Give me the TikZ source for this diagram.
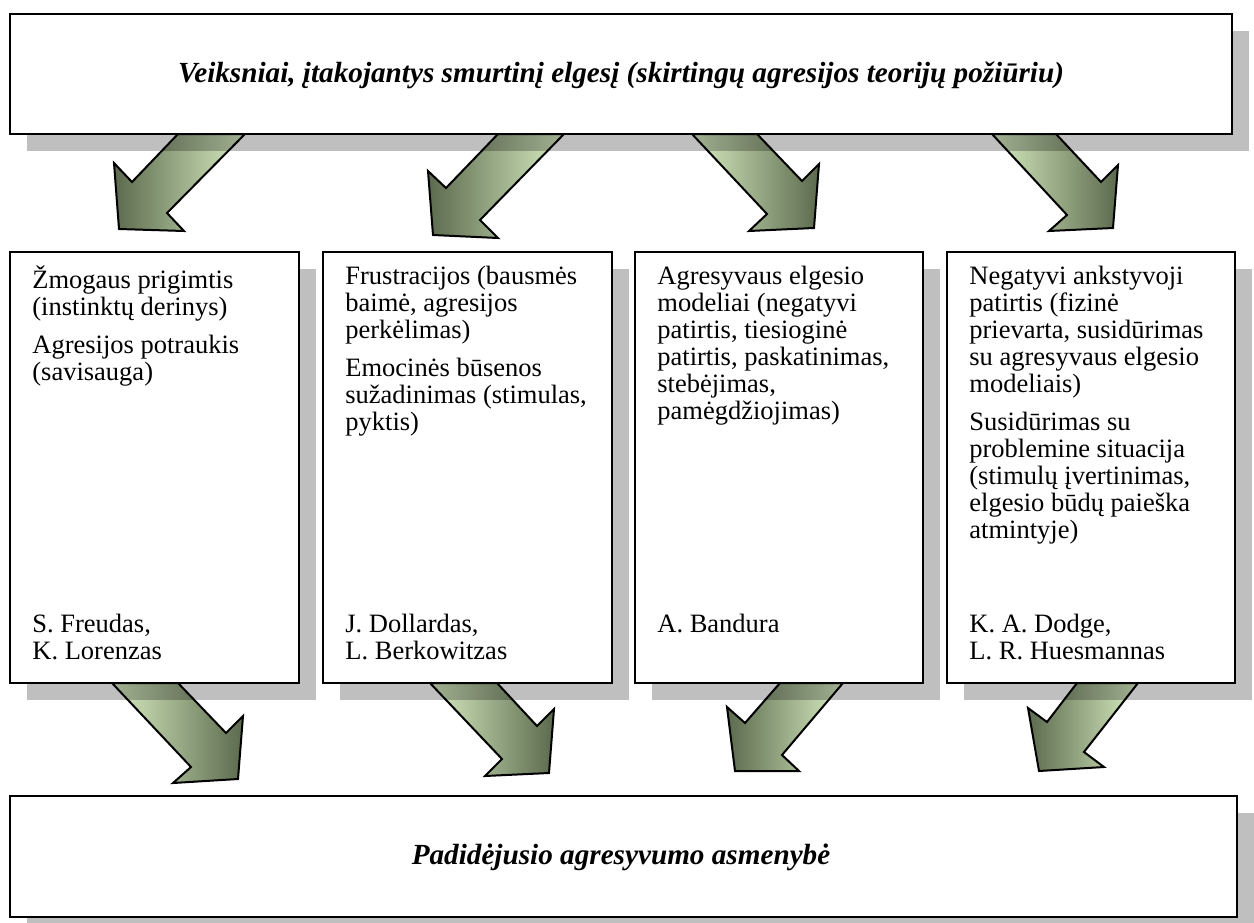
\documentclass[tikz,border=0pt]{standalone}
\usepackage{fontspec}
\setmainfont{Liberation Serif}
\usetikzlibrary{fit,shadows}
\definecolor{arrowlight}{HTML}{D8EDC2}
\definecolor{arrowdark}{HTML}{5B6A4D}
\tikzset{
  box/.style={draw=black, line width=1pt, fill=white, inner sep=0pt,
    drop shadow={shadow xshift=8.25pt, shadow yshift=-8.25pt, fill=black, opacity=0.25}},
  txt/.style={anchor=north west, inner sep=0pt, align=left,
    font=\fontsize{13.25}{13.5}\selectfont},
  ttl/.style={inner sep=0pt, font=\fontsize{14.6}{15}\selectfont\bfseries\itshape},
  arrDL/.style={draw=black, line width=1pt, line join=miter, left color=arrowdark, right color=arrowlight},
  arrDR/.style={draw=black, line width=1pt, line join=miter, left color=arrowlight, right color=arrowdark},
}
\begin{document}
\begin{tikzpicture}[x=0.5pt,y=-0.5pt]
\useasboundingbox (0,0) rectangle (1254,922);
% top arrows
\draw[arrDL] (178,134) -- (132,182) -- (114,163) -- (119,229) -- (184,231) -- (167,213) -- (245,134) -- cycle;
\draw[arrDL] (498,134) -- (446,188) -- (428,171) -- (433,235) -- (498,238) -- (480,220) -- (564,134) -- cycle;
\draw[arrDR] (692,134) -- (767,214) -- (749,231) -- (814,228) -- (819,164) -- (802,181) -- (757,134) -- cycle;
\draw[arrDR] (992,134) -- (1067,215) -- (1049,231) -- (1113,228) -- (1118,165) -- (1101,182) -- (1056,134) -- cycle;
% bottom arrows
\draw[arrDR] (112,683) -- (191,767) -- (173,783) -- (238,779) -- (243,716) -- (226,733) -- (178,683) -- cycle;
\draw[arrDR] (430,683) -- (502,759) -- (485,776) -- (549,773) -- (554,709) -- (537,726) -- (497,683) -- cycle;
\draw[arrDL] (780,683) -- (745,723) -- (727,707) -- (735,771) -- (799,771) -- (782,755) -- (843,683) -- cycle;
\draw[arrDL] (1077,683) -- (1047,722) -- (1028,708) -- (1039,771) -- (1104,767) -- (1084,752) -- (1138,683) -- cycle;
% boxes
\node[box, fit={(10,14)(1232,134)}] (top) {};
\node[ttl] (toptxt) at (621,75) {Veiksniai, įtakojantys smurtinį elgesį (skirtingų agresijos teorijų požiūriu)};
\node[box, fit={(10,252)(299,683)}] (b1) {};
\node[box, fit={(323,252)(612,683)}] (b2) {};
\node[box, fit={(635,252)(923,683)}] (b3) {};
\node[box, fit={(947,252)(1235,683)}] (b4) {};
\node[box, fit={(10,796)(1237,917)}] (bot) {};
\node[ttl] (bottxt) at (621,857) {Padidėjusio agresyvumo asmenybė};
% box texts
\node[txt] (t1) at (32,265) {\strut Žmogaus prigimtis\\(instinktų derinys)\\[5.5pt]Agresijos potraukis\\(savisauga)};
\node[txt] (a1) at (32,613) {\strut S. Freudas,\\K. Lorenzas};
\node[txt] (t2) at (345,265) {\strut Frustracijos (bausmės\\baimė, agresijos\\perkėlimas)\\[5.5pt]Emocinės būsenos\\sužadinimas (stimulas,\\pyktis)};
\node[txt] (a2) at (345,613) {\strut J. Dollardas,\\L. Berkowitzas};
\node[txt] (t3) at (657,265) {\strut Agresyvaus elgesio\\modeliai (negatyvi\\patirtis, tiesioginė\\patirtis, paskatinimas,\\stebėjimas,\\pamėgdžiojimas)};
\node[txt] (a3) at (657,613) {\strut A. Bandura};
\node[txt] (t4) at (969,265) {\strut Negatyvi ankstyvoji\\patirtis (fizinė\\prievarta, susidūrimas\\su agresyvaus elgesio\\modeliais)\\[5.5pt]Susidūrimas su\\problemine situacija\\(stimulų įvertinimas,\\elgesio būdų paieška\\atmintyje)};
\node[txt] (a4) at (969,613) {\strut K. A. Dodge,\\L. R. Huesmannas};
\end{tikzpicture}
\end{document}
